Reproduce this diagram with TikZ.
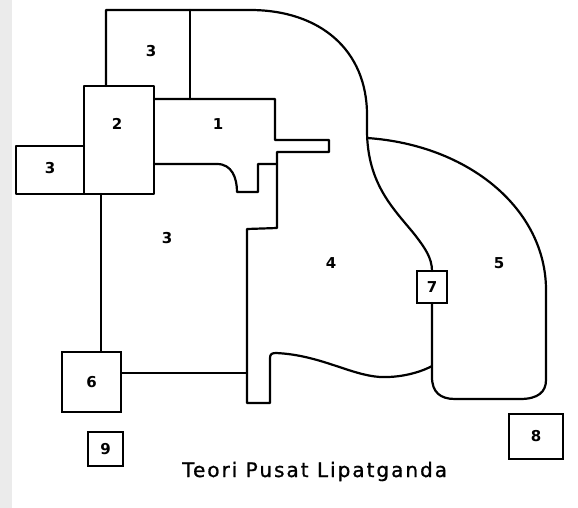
\documentclass[tikz,border=0pt]{standalone}
\usepackage{fontspec}
\setmainfont{DejaVu Sans}
\begin{document}
\begin{tikzpicture}[x=1pt,y=-1pt,
  wall/.style={line width=2.2pt, line join=round, line cap=round},
  num/.style={font=\bfseries\fontsize{15}{17}\selectfont, inner sep=0pt},
  boxnode/.style={draw, line width=2.2pt, inner sep=0pt, font=\bfseries\fontsize{15}{17}\selectfont}]
\useasboundingbox (0,0) rectangle (578,508);
\fill[gray!16] (0,0) rectangle (12,508);
% top 3 box and big curve (zone 4 left border)
\draw[wall] (106,86) -- (106,10) -- (190,10) -- (250,10)
  .. controls (320,10) and (367,50) .. (367,115) -- (367,130)
  .. controls (367,185) and (395,210) .. (415,235)
  .. controls (425,248) and (432,258) .. (432,271);
\draw[wall] (190,10) -- (190,99);
% box 2
\draw[wall] (84,86) rectangle (154,194);
% left 3
\draw[wall] (84,146) -- (16,146) -- (16,194) -- (84,194);
% zone 1 and inner border of 4
\draw[wall] (154,99) -- (275,99) -- (275,140) -- (329,140) -- (329,152) -- (277,152) -- (277,228) -- (247,229) -- (247,403) -- (270,403) -- (270,358)
  .. controls (270,354) and (272,353) .. (276,353)
  .. controls (320,355) and (350,375) .. (380,377)
  .. controls (405,378) and (425,370) .. (432,366);
% notch of zone 1
\draw[wall] (154,164) -- (217,164) .. controls (232,164) and (237,178) .. (237,192) -- (258,192) -- (258,164) -- (277,164);
% zone 5
\draw[wall] (432,303) -- (432,377) .. controls (432,392) and (440,399) .. (455,399) -- (520,399)
  .. controls (538,399) and (546,392) .. (546,380) -- (546,290)
  .. controls (546,210) and (470,145) .. (367,138);
% small boxes
\node[boxnode, minimum width=59pt, minimum height=60pt] (b6) at (91.5,382) {6};
\node[boxnode, minimum width=35pt, minimum height=34pt] (b9) at (105.5,449) {9};
\node[boxnode, minimum width=54pt, minimum height=45pt] (b8) at (536,436.5) {8};
\node[boxnode, minimum width=30pt, minimum height=32pt] (b7) at (432,287) {7};
% connectors
\coordinate (c2) at (101,194);
\coordinate (c3) at (247,373);
\draw[wall] (c2) -- (c2 |- b6.north);
\draw[wall] (b6.east |- c3) -- (c3);
% labels
\node[num] (l3a) at (151,51) {3};
\node[num] (l2) at (117,124) {2};
\node[num] (l1) at (218,124) {1};
\node[num] (l3b) at (50,168) {3};
\node[num] (l3c) at (167,238) {3};
\node[num] (l4) at (331,263) {4};
\node[num] (l5) at (499,263) {5};
\node[anchor=base west, inner sep=0pt, font=\fontsize{20}{23}\selectfont\addfontfeature{LetterSpace=10,FakeBold=1}] (title) at (182,477) {Teori Pusat Lipatganda};
\end{tikzpicture}
\end{document}
